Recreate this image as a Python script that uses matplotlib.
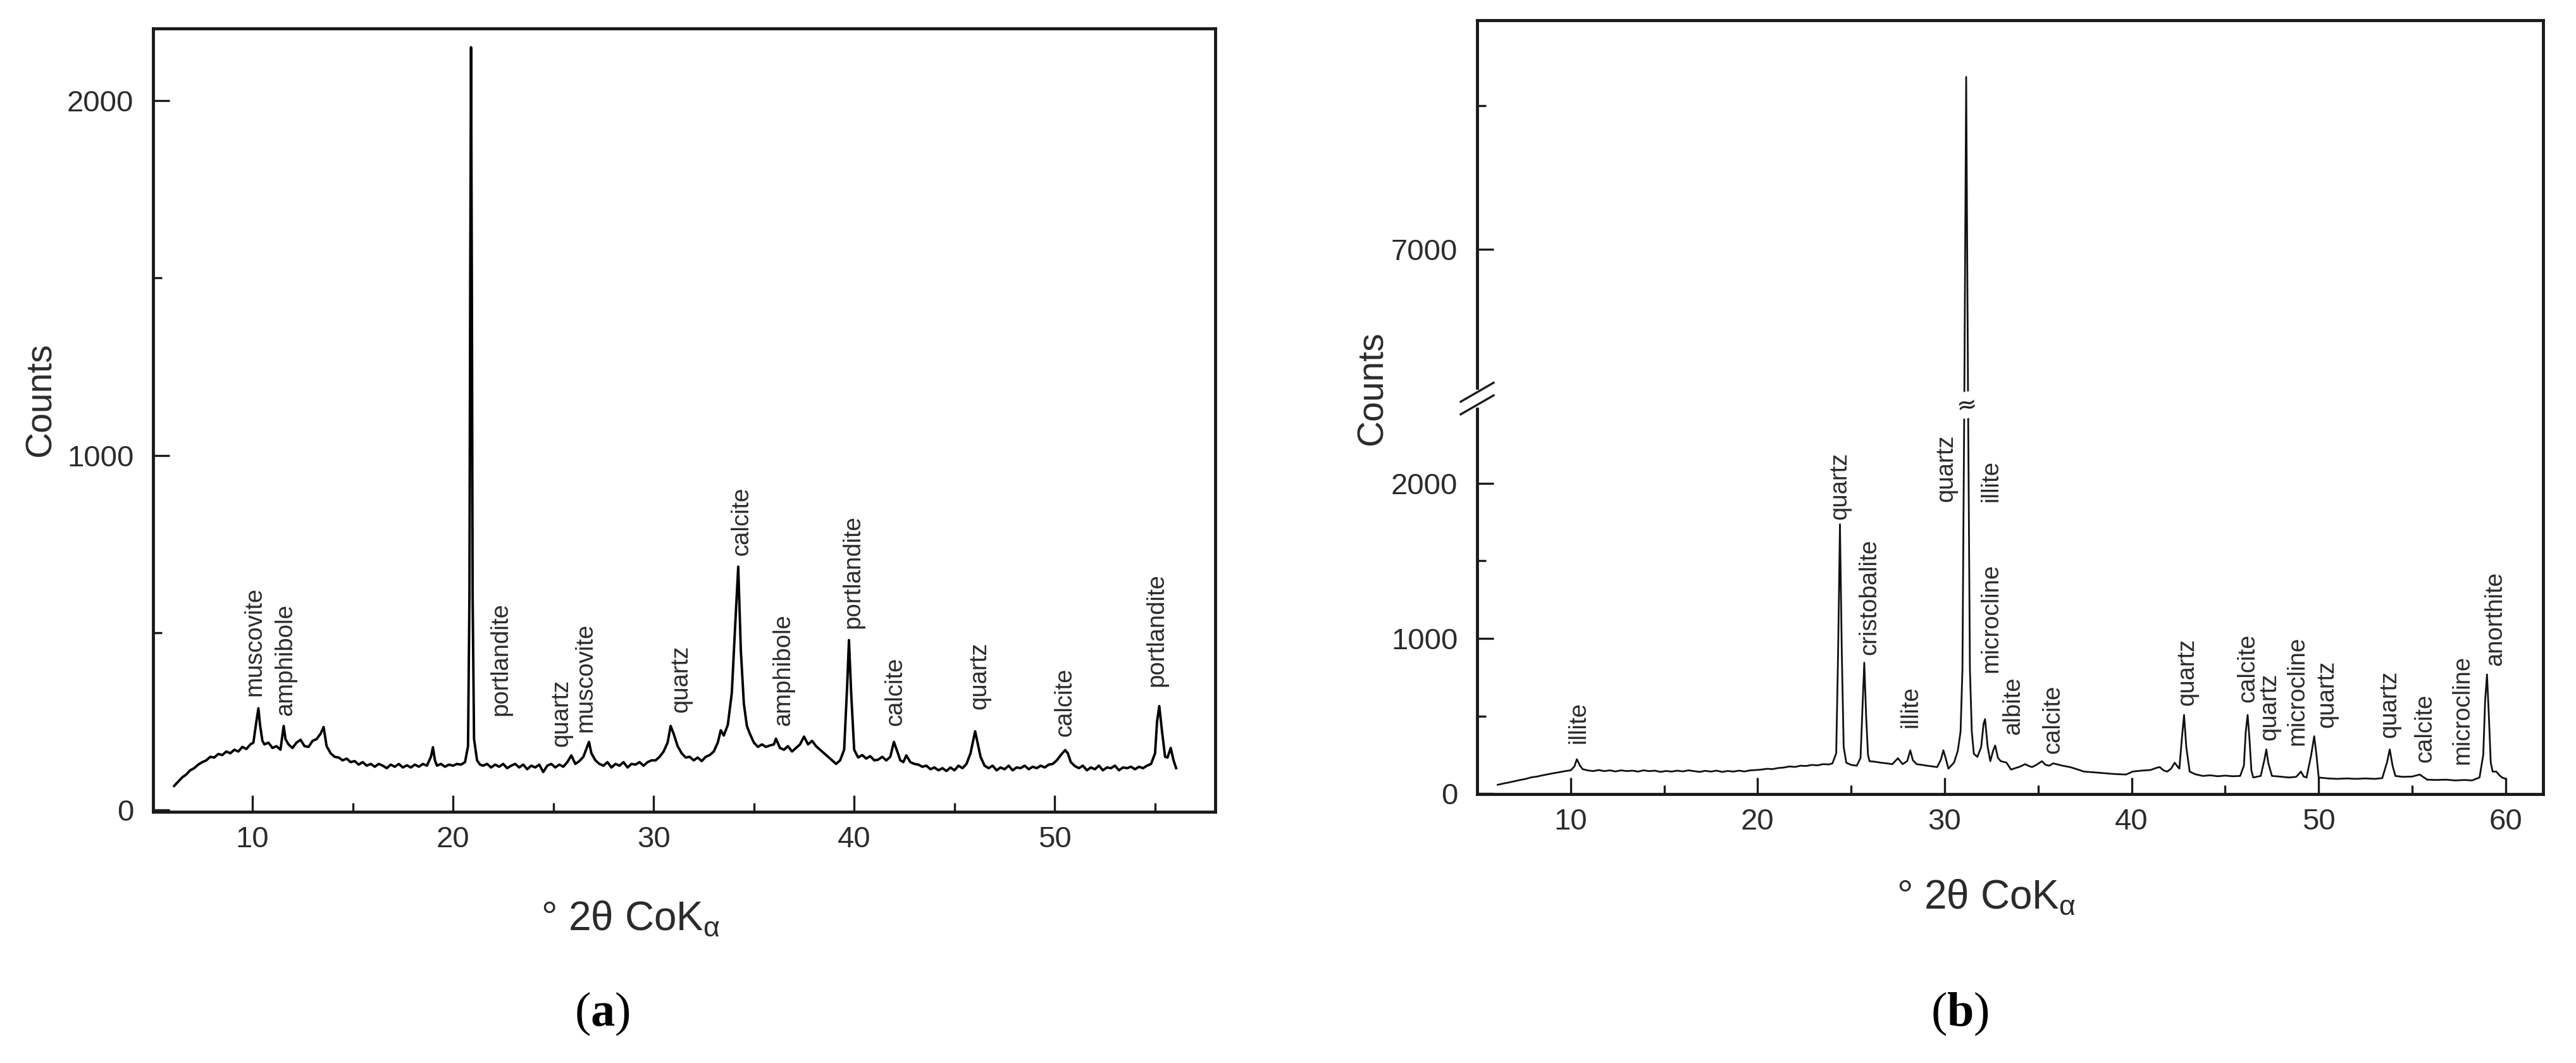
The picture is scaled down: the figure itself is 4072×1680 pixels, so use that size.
import numpy as np
import matplotlib.pyplot as plt
from matplotlib.ticker import FixedLocator, NullFormatter

W, H = 4073, 1680

# ---- data: panel (a) ----
a_x = [6.1, 6.3, 6.5, 6.7, 6.9, 7.1, 7.3, 7.5, 7.7, 7.9, 8.1, 8.3, 8.5, 8.7, 8.9,
       9.1, 9.3, 9.5, 9.7, 9.9, 10.05, 10.2, 10.3, 10.38, 10.5, 10.6, 10.8, 11.0,
       11.2, 11.4, 11.56, 11.65, 11.8, 12.0, 12.2, 12.4, 12.6, 12.8, 13.0, 13.2,
       13.4, 13.55, 13.7, 13.9, 14.1, 14.3, 14.5, 14.7, 14.9, 15.1, 15.3, 15.5,
       15.7, 15.9, 16.1, 16.3, 16.5, 16.7, 16.9, 17.1, 17.3, 17.5, 17.7, 17.9,
       18.1, 18.3, 18.5, 18.7, 18.9, 19.0, 19.1, 19.2, 19.4, 19.6, 19.8, 20.0,
       20.2, 20.4, 20.6, 20.75, 20.82, 20.86, 20.9, 20.94, 20.98, 21.05, 21.2,
       21.35, 21.5, 21.7, 21.9, 22.1, 22.3, 22.5, 22.7, 22.9, 23.1, 23.3, 23.5,
       23.7, 23.9, 24.1, 24.3, 24.5, 24.7, 24.9, 25.1, 25.3, 25.5, 25.7, 25.9,
       26.1, 26.3, 26.5, 26.78, 26.9, 27.1, 27.3, 27.5, 27.7, 27.9, 28.1, 28.3,
       28.5, 28.7, 28.9, 29.1, 29.3, 29.5, 29.7, 29.9, 30.1, 30.3, 30.5, 30.7,
       30.85, 31.0, 31.2, 31.4, 31.6, 31.8, 32.0, 32.2, 32.4, 32.6, 32.8, 33.0,
       33.2, 33.35, 33.5, 33.7, 33.9, 34.05, 34.22, 34.35, 34.5, 34.65, 34.8,
       35.0, 35.2, 35.4, 35.6, 35.8, 36.0, 36.1, 36.3, 36.5, 36.7, 36.9, 37.1,
       37.3, 37.5, 37.7, 37.9, 38.1, 38.3, 38.5, 38.7, 38.9, 39.1, 39.3, 39.5,
       39.65, 39.74, 39.85, 40.0, 40.2, 40.4, 40.6, 40.8, 41.0, 41.2, 41.4, 41.6,
       41.8, 41.98, 42.15, 42.3, 42.45, 42.6, 42.8, 43.0, 43.2, 43.4, 43.6, 43.8,
       44.0, 44.2, 44.4, 44.6, 44.8, 45.0, 45.2, 45.4, 45.6, 45.8, 46.03, 46.15,
       46.3, 46.5, 46.7, 46.9, 47.1, 47.3, 47.5, 47.7, 47.9, 48.1, 48.3, 48.5,
       48.7, 48.9, 49.1, 49.3, 49.5, 49.7, 49.9, 50.1, 50.3, 50.52, 50.65, 50.8,
       51.0, 51.2, 51.4, 51.6, 51.8, 52.0, 52.2, 52.4, 52.6, 52.8, 53.0, 53.2,
       53.4, 53.6, 53.8, 54.0, 54.2, 54.4, 54.6, 54.8, 55.0, 55.1, 55.21, 55.35,
       55.5, 55.62, 55.78, 55.92, 56.05]
a_y = [68, 80, 92, 100, 112, 118, 128, 135, 140, 150, 148, 158, 155, 165, 160,
       170, 165, 178, 172, 185, 190, 250, 287, 240, 195, 185, 190, 175,
       180, 170, 237, 200, 185, 175, 190, 198, 180, 178, 195, 200,
       215, 234, 180, 160, 150, 148, 140, 145, 135, 138, 128, 135,
       125, 130, 122, 130, 125, 118, 128, 122, 130, 120, 126, 120,
       128, 122, 130, 125, 150, 177, 140, 125, 130, 122, 128, 125,
       130, 128, 135, 180, 600, 1500, 2150, 1500, 600, 200, 140,
       128, 125, 130, 120, 128, 122, 130, 118, 125, 130, 120, 128,
       115, 125, 120, 128, 107, 125, 130, 120, 128, 122, 135, 154,
       130, 138, 150, 192, 160, 140, 130, 125, 135, 120, 130, 125,
       135, 120, 130, 128, 135, 125, 135, 140, 140, 150, 165, 190,
       237, 215, 180, 160, 148, 150, 140, 148, 138, 150, 155, 165,
       190, 225, 210, 240, 330, 500, 686, 450, 300, 237, 215,
       190, 178, 185, 178, 182, 185, 201, 175, 170, 180, 165, 175,
       185, 207, 185, 195, 180, 170, 160, 150, 140, 130, 140, 170,
       350, 479, 330, 170, 148, 155, 145, 152, 140, 142, 150, 140,
       150, 192, 165, 140, 135, 154, 135, 130, 128, 122, 125, 115,
       120, 112, 118, 110, 120, 112, 125, 118, 130, 160, 222, 190,
       150, 125, 118, 125, 112, 120, 115, 125, 112, 120, 118, 125,
       115, 122, 118, 125, 120, 128, 130, 140, 155, 169, 160, 135,
       124, 118, 125, 112, 120, 115, 125, 112, 120, 118, 125, 112,
       120, 118, 122, 115, 122, 118, 125, 130, 160, 250, 293, 220,
       150, 148, 175, 140, 118]

a_labels = ["muscovite", "amphibole", "portlandite", "quartz", "muscovite",
            "quartz", "calcite", "amphibole", "portlandite", "calcite",
            "quartz", "calcite", "portlandite"]
a_label_x = [10.12, 11.64, 22.37, 25.4, 26.6, 31.37, 34.39, 36.47, 39.93,
             42.05, 46.26, 50.5, 55.09]
a_label_y = [322, 266, 266, 178, 219, 275, 718, 237, 512, 237, 284, 207, 349]

# ---- data: panel (b) ----
b_x = [6.1, 6.4, 6.7, 7.0, 7.3, 7.6, 7.9, 8.2, 8.5, 8.8, 9.1, 9.4, 9.7, 10.0,
       10.2, 10.33, 10.5, 10.65, 10.9, 11.2, 11.5, 11.8, 12.1, 12.4, 12.7, 13.0,
       13.3, 13.6, 13.9, 14.2, 14.5, 14.8, 15.1, 15.4, 15.7, 16.0, 16.3, 16.6,
       16.9, 17.2, 17.5, 17.8, 18.1, 18.4, 18.7, 19.0, 19.3, 19.6, 19.9, 20.2,
       20.5, 20.8, 21.1, 21.4, 21.7, 22.0, 22.3, 22.6, 22.9, 23.2, 23.5, 23.8,
       24.0, 24.2, 24.3, 24.4, 24.5, 24.6, 24.74, 25.0, 25.3, 25.5, 25.62, 25.7,
       25.8, 25.9, 25.98, 26.3, 26.6, 26.9, 27.2, 27.5, 27.75, 28.0, 28.16, 28.3,
       28.5, 28.8, 29.05, 29.35, 29.6, 29.8, 29.93, 30.05, 30.2, 30.5, 30.7,
       30.85, 30.95, 31.05, 31.15, 31.25, 31.35, 31.45, 31.56, 31.75, 31.95,
       32.08, 32.16, 32.3, 32.44, 32.6, 32.7, 32.85, 33.0, 33.3, 33.55, 33.8,
       34.05, 34.3, 34.5, 34.67, 34.9, 35.2, 35.4, 35.6, 35.8, 35.97, 36.3,
       36.7, 37.0, 37.45, 37.9, 38.4, 38.9, 39.3, 39.7, 40.05, 40.5, 41.0, 41.3,
       41.5, 41.7, 41.9, 42.1, 42.3, 42.45, 42.55, 42.68, 42.8, 42.92, 43.1,
       43.4, 43.8, 44.2, 44.6, 45.0, 45.4, 45.8, 46.0, 46.1, 46.2, 46.3, 46.4,
       46.5, 46.9, 47.1, 47.2, 47.3, 47.5, 47.9, 48.4, 48.8, 49.05, 49.2, 49.35,
       49.6, 49.76, 49.88, 50.0, 50.5, 51.0, 51.5, 52.0, 52.5, 53.0, 53.4,
       53.65, 53.8, 53.95, 54.1, 54.5, 55.0, 55.4, 55.8, 56.3, 56.8, 57.3, 57.8,
       58.2, 58.6, 58.8, 58.9, 59.0, 59.1, 59.2, 59.3, 59.5, 59.65, 59.8, 60.0]
b_y = [57, 65, 72, 80, 88, 95, 105, 110, 118, 125, 132, 138, 145, 150,
       175, 222, 180, 157, 150, 145, 152, 145, 150, 143, 150, 145,
       148, 142, 150, 145, 148, 140, 146, 142, 148, 143, 150, 145,
       140, 147, 142, 148, 140, 146, 142, 148, 143, 150, 152, 155,
       160, 158, 165, 168, 175, 172, 180, 178, 185, 182, 190, 188,
       195, 260, 900, 1736, 900, 300, 199, 185, 180, 230, 600, 844,
       500, 250, 209, 205, 199, 195, 190, 228, 190, 210, 279, 215,
       190, 185, 180, 175, 171, 220, 279, 230, 161, 200, 275,
       400, 800, 3000, 8200, 3000, 800, 400, 256, 237, 300,
       450, 480, 300, 209, 280, 310, 230, 209, 200, 155, 165,
       175, 190, 178, 171, 185, 209, 185, 180, 195, 190, 180,
       171, 160, 142, 138, 133, 128, 125, 123, 142, 148, 152, 165,
       171, 150, 142, 160, 199, 175, 161, 350, 507, 300, 142,
       125, 114, 118, 112, 116, 112, 114, 180, 400, 507, 350, 150,
       104, 114, 220, 285, 200, 114, 110, 104, 108, 142, 110, 104,
       250, 370, 250, 104, 98, 95, 98, 95, 98, 95, 100,
       200, 285, 180, 114, 108, 110, 123, 90, 88, 90, 85, 88,
       85, 104, 250, 600, 768, 500, 200, 142, 142, 120, 104, 95]

b_labels = ["illite", "quartz", "cristobalite", "illite", "quartz", "illite",
            "microcline", "albite", "calcite", "quartz", "calcite", "quartz",
            "microcline", "quartz", "quartz", "calcite", "microcline", "anorthite"]
b_label_x = [10.43, 24.4, 25.98, 28.2, 30.07, 32.49, 32.49, 33.65, 35.78,
             42.98, 46.2, 47.37, 48.86, 50.44, 53.78, 55.67, 57.67, 59.43]
b_label_y = [322, 1765, 892, 427, 1879, 1879, 778, 380, 256, 569, 588, 342,
             313, 427, 361, 199, 190, 825]

# broken y axis of (b)
B1, B2, K, EPS = 2546.0, 5960.0, 0.925, 1e-4


def fwd(y):
    y = np.asarray(y, dtype=float)
    f0 = B1 + (B2 - B1) * EPS
    return np.where(y <= B1, y,
                    np.where(y < B2, B1 + (y - B1) * EPS, f0 + (y - B2) * K))


def inv(f):
    f = np.asarray(f, dtype=float)
    f0 = B1 + (B2 - B1) * EPS
    return np.where(f <= B1, f,
                    np.where(f < f0, B1 + (f - B1) / EPS, B2 + (f - f0) / K))


plt.rcParams['font.family'] = ['Liberation Sans', 'DejaVu Sans']
plt.rcParams['mathtext.fontset'] = 'custom'
plt.rcParams['mathtext.rm'] = 'Liberation Serif'
plt.rcParams['mathtext.bf'] = 'Liberation Serif:bold'

INK = '#1a1a1a'
TXT = '#2b2b2b'

fig = plt.figure(figsize=(W / 100, H / 100), dpi=100)


def px_box(l, t, r, b):
    return [l / W, 1 - b / H, (r - l) / W, (b - t) / H]


def style(ax, xmaj, xmin, ymaj, ymin):
    for s in ax.spines.values():
        s.set_linewidth(3.5)
        s.set_color(INK)
    ax.xaxis.set_major_locator(FixedLocator(xmaj))
    ax.xaxis.set_minor_locator(FixedLocator(xmin))
    ax.yaxis.set_major_locator(FixedLocator(ymaj))
    ax.yaxis.set_minor_locator(FixedLocator(ymin))
    ax.yaxis.set_minor_formatter(NullFormatter())
    ax.xaxis.set_minor_formatter(NullFormatter())
    ax.set_yticklabels([str(v) for v in ymaj])
    ax.tick_params(which='both', direction='in', top=False, right=False,
                   width=2.4, color=INK, labelsize=34, labelcolor=TXT)
    ax.tick_params(which='major', length=19)
    ax.tick_params(which='minor', length=10)
    ax.tick_params(axis='x', pad=16)
    ax.tick_params(axis='y', pad=22)


# ---- panel (a) ----
ax_a = fig.add_axes(px_box(242, 45, 1921, 1283))
ax_a.plot(a_x, a_y, color='black', lw=2.8)
ax_a.set_xlim(5.05, 58.0)
ax_a.set_ylim(-5, 2203)
style(ax_a, [10, 20, 30, 40, 50], [15, 25, 35, 45, 55], [0, 1000, 2000], [500, 1500])
for name, x, y in zip(a_labels, a_label_x, a_label_y):
    ax_a.text(x, y, name, rotation=90, ha='center', va='bottom',
              fontsize=27.5, color=TXT)

# ---- panel (b) ----
ax_b = fig.add_axes(px_box(2335, 32, 4020, 1255))
ax_b.set_yscale('function', functions=(fwd, inv))
ax_b.plot(b_x, b_y, color='#111111', lw=2.0)
ax_b.set_xlim(5.0, 62.0)
ax_b.set_ylim(-3, 8595)
style(ax_b, [10, 20, 30, 40, 50, 60], [15, 25, 35, 45, 55], [0, 1000, 2000, 7000],
      [500, 1500, 8000])
for name, x, y in zip(b_labels, b_label_x, b_label_y):
    ax_b.text(x, y, name, rotation=90, ha='center', va='bottom',
              fontsize=27.5, color=TXT)

# break marks on the left spine
yb = ax_b.transAxes.inverted().transform(ax_b.transData.transform((10, B1)))[1]
bw, bh = ax_b.bbox.width, ax_b.bbox.height
dx, dy, gap = 26 / bw, 15 / bh, 20 / bh
ax_b.plot([0, 0], [yb - gap / 2, yb + gap / 2], color='white', lw=6,
          transform=ax_b.transAxes, clip_on=False, zorder=5)
for off in (-gap / 2, gap / 2):
    ax_b.plot([-dx, dx], [yb + off - dy, yb + off + dy], color=INK, lw=2.4,
              transform=ax_b.transAxes, clip_on=False, zorder=6)
# wavy break sign on the tall quartz peak
ax_b.text(31.2, 2505, '\u2248', rotation=8, ha='center', va='center',
          fontsize=28, family='DejaVu Sans', color=INK, zorder=6,
          bbox=dict(facecolor='white', edgecolor='none', pad=1.5))

# ---- axis titles and panel letters ----
fig.text(65 / W, 1 - 632 / H, 'Counts', rotation=90, ha='center', va='center',
         fontsize=41, color=TXT)
fig.text(2170 / W, 1 - 614 / H, 'Counts', rotation=90, ha='center', va='center',
         fontsize=41, color=TXT)
xlab = '\u00b0 2\u03b8 CoK$_\\mathregular{\u03b1}$'
fig.text(855 / W, 1 - 1470 / H, xlab, ha='left', va='baseline', fontsize=46, color=TXT)
fig.text(2998 / W, 1 - 1436 / H, xlab, ha='left', va='baseline', fontsize=46, color=TXT)
fig.text(952 / W, 1 - 1602 / H, r'$(\mathbf{a})$', ha='center', va='center',
         fontsize=55, color='black')
fig.text(3098 / W, 1 - 1602 / H, r'$(\mathbf{b})$', ha='center', va='center',
         fontsize=55, color='black')

fig.savefig('out.png', dpi=100, facecolor='white')
